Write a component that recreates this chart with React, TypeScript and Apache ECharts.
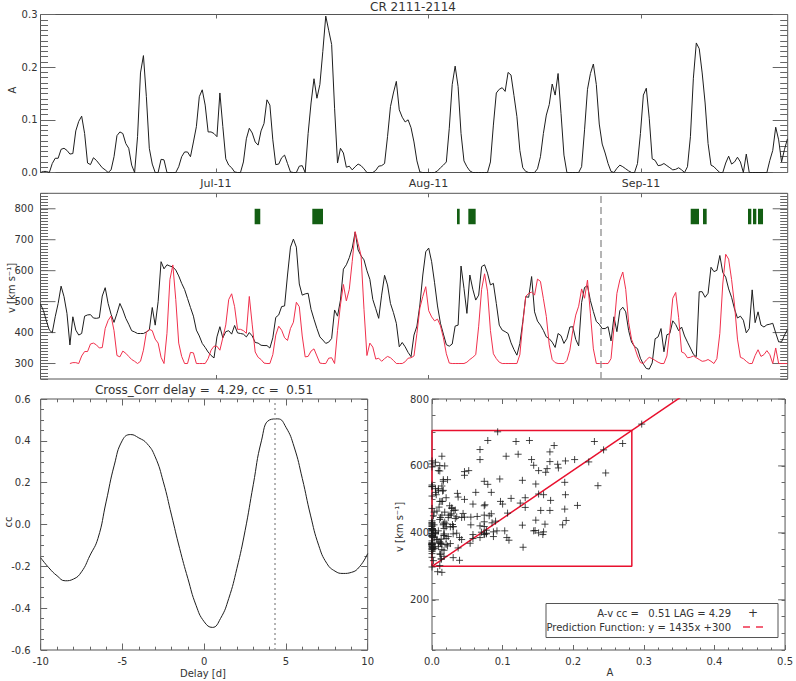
import React, { useEffect, useRef } from 'react';
import * as echarts from 'echarts';

// ---------- data ----------
// time in days relative to 2011-07-01 00:00; samples every DT days from T0
const T0 = -25.6;
const DT = 0.429;
const X_MIN = -25.6;
const X_MAX = 83.4;
const LAG_DAYS = 4.29;
const LAG_SAMPLES = 10; // LAG_DAYS / DT
const CC_PEAK = 0.51;
const SLOPE = 1435;
const INTERCEPT = 300;

const MONTH_TICKS = [0, 31, 62];
const MONTH_LABELS = ['Jul-11', 'Aug-11', 'Sep-11'];

const A_VALUES = [
  0, 0.002, 0.002, 0, 0.017, 0.027, 0.027, 0.044, 0.046, 0.042,
  0.035, 0.036, 0.079, 0.097, 0.107, 0.074, 0.018, 0.015, 0.028, 0.023,
  0.016, 0.009, 0.005, 0, 0.005, 0.03, 0.07, 0.077, 0.074, 0.055,
  0.046, 0.014, 0, 0.068, 0.189, 0.222, 0.144, 0.046, 0.016, 0,
  0, 0.025, 0.024, 0, 0, 0, 0, 0.011, 0.03, 0.039,
  0.039, 0.03, 0.058, 0.087, 0.144, 0.157, 0.128, 0.077, 0.077, 0.074,
  0.068, 0.151, 0.087, 0.026, 0.014, 0.009, 0.001, 0, 0, 0.02,
  0.064, 0.084, 0.075, 0.058, 0.052, 0.079, 0.093, 0.138, 0.128, 0.062,
  0.015, 0.016, 0.028, 0.033, 0.017, 0.001, 0, 0, 0.012, 0.013,
  0, 0.074, 0.132, 0.178, 0.141, 0.167, 0.23, 0.297, 0.27, 0.243,
  0.122, 0.018, 0.046, 0.037, 0.01, 0.012, 0.005, 0.011, 0.016, 0.013,
  0.007, 0, 0, 0, 0.004, 0.012, 0.013, 0.017, 0.068, 0.125,
  0.151, 0.173, 0.119, 0.105, 0.096, 0.1, 0.085, 0.058, 0.022, 0.001,
  0, 0, 0, 0, 0, 0.003, 0.009, 0.014, 0.02, 0.084,
  0.167, 0.202, 0.163, 0.074, 0.022, 0.011, 0.003, 0, 0, 0,
  0, 0, 0, 0.02, 0.09, 0.151, 0.158, 0.161, 0.154, 0.19,
  0.185, 0.146, 0.106, 0.042, 0.009, 0.002, 0, 0, 0, 0.007,
  0.03, 0.074, 0.109, 0.129, 0.168, 0.147, 0.188, 0.112, 0.033, 0,
  0, 0, 0, 0, 0.011, 0.081, 0.158, 0.188, 0.206, 0.167,
  0.092, 0.054, 0.037, 0.017, 0.002, 0, 0.008, 0.014, 0.011, 0.007,
  0.003, 0, 0, 0.017, 0.074, 0.147, 0.16, 0.103, 0.026, 0.023,
  0.013, 0.014, 0.017, 0.013, 0.009, 0.005, 0.006, 0.009, 0.005, 0,
  0.011, 0.068, 0.179, 0.246, 0.235, 0.189, 0.132, 0.055, 0.014, 0.011,
  0.005, 0, 0, 0.018, 0.031, 0.016, 0.02, 0.029, 0.02, 0,
  0.035, 0, 0, 0, 0, 0, 0, 0, 0.023, 0.042,
  0.086, 0.062, 0.02, 0.044, 0.064,
];

const V_VALUES = [
  492, 471, 438, 408, 400, 451, 494, 550, 516, 462,
  360, 451, 408, 392, 397, 453, 457, 458, 447, 446,
  448, 518, 545, 494, 459, 433, 462, 494, 473, 446,
  427, 406, 402, 397, 397, 397, 402, 408, 481, 424,
  500, 629, 606, 619, 615, 612, 602, 583, 559, 539,
  510, 481, 453, 408, 389, 365, 352, 337, 326, 318,
  386, 419, 383, 403, 406, 395, 423, 399, 397, 395,
  386, 400, 389, 368, 366, 359, 358, 358, 350, 383,
  449, 457, 484, 486, 586, 676, 702, 676, 557, 521,
  525, 527, 475, 443, 413, 386, 376, 365, 369, 381,
  473, 453, 505, 605, 619, 642, 673, 725, 667, 648,
  635, 600, 572, 507, 477, 446, 521, 585, 554, 494,
  465, 430, 354, 368, 354, 336, 322, 392, 421, 489,
  586, 661, 673, 629, 561, 486, 430, 395, 361, 356,
  363, 421, 424, 615, 543, 462, 586, 540, 505, 521,
  613, 619, 592, 554, 559, 494, 424, 408, 403, 397,
  367, 345, 327, 365, 435, 516, 514, 581, 467, 437,
  424, 407, 386, 380, 369, 352, 397, 390, 365, 381,
  418, 419, 378, 357, 497, 546, 551, 503, 468, 436,
  427, 413, 413, 419, 373, 451, 403, 471, 482, 467,
  406, 369, 355, 348, 317, 298, 284, 282, 302, 380,
  386, 413, 338, 393, 397, 438, 426, 406, 418, 389,
  369, 350, 330, 322, 532, 532, 514, 527, 611, 597,
  601, 649, 594, 579, 541, 514, 476, 447, 453, 440,
  399, 413, 538, 432, 467, 424, 418, 425, 427, 430,
  399, 370, 370, 392, 410,
];

// green event bars (days since 2011-07-01), drawn between GREEN_V[0] and GREEN_V[1]
const GREEN_START = [5.64, 14.05, 35.16, 36.81, 69.25, 71.04, 77.61, 78.34, 79.07];
const GREEN_END = [6.46, 15.61, 35.55, 37.88, 70.46, 71.58, 78.09, 78.82, 79.8];
const GREEN_V = [750, 800];
const BOUNDARY_DAY = 56.06;

const CC_DELAY = [
  -10, -9.5, -9, -8.5, -8, -7.5, -7, -6.5, -6, -5.5, -5, -4.5, -4, -3.5, -3, -2.5, -2, -1.5, -1, -0.5,
  0, 0.5, 1, 1.5, 2, 2.5, 3, 3.5, 4, 4.5, 5, 5.5, 6, 6.5, 7, 7.5, 8, 8.5, 9, 9.5, 10,
];
const CC_VALUES = [
  -0.159, -0.207, -0.245, -0.269, -0.261, -0.226, -0.15, -0.067, 0.108, 0.284, 0.403, 0.43, 0.414, 0.387, 0.324, 0.204, 0.045, -0.115, -0.258, -0.386,
  -0.465, -0.492, -0.449, -0.354, -0.21, -0.03, 0.19, 0.4, 0.5, 0.505, 0.465, 0.371, 0.22, 0.045, -0.099, -0.186, -0.223, -0.234, -0.229, -0.202, -0.139,
];

const RECT_A_MAX = 0.283;
const RECT_V_MIN = 300;
const RECT_V_MAX = 706;

// ---------- styles / layout ----------
const FONT = 'DejaVu Sans';
const AXIS_COLOR = '#555';
const TICK_COLOR = '#666';
const TEXT_COLOR = '#333';
const LINE_COLOR = '#1e1e1e';
const RED = '#f0304c';
const RED_STRONG = '#e8102e';
const GREEN = '#135e13';

const GRIDS = [
  { left: 40.5, top: 14.5, width: 747.2, height: 158 },
  { left: 40.5, top: 193.3, width: 747.2, height: 185.7 },
  { left: 40.7, top: 399, width: 327, height: 251 },
  { left: 432, top: 399, width: 355.7, height: 251 },
];

function seq(a: number, b: number, step: number): number[] {
  const out: number[] = [];
  const n = Math.round((b - a) / step);
  for (let k = 0; k <= n; k++) out.push(+(a + k * step).toFixed(6));
  return out;
}

type TickCfg = { interval?: number; custom?: number[]; len: number; minor?: number; minorLen?: number };
type LabelCfg = { values: number[]; fmt: (v: number) => string; margin: number; size: number };

function makeAxis(gridIndex: number, position: string, min: number, max: number, t: TickCfg, lab?: LabelCfg) {
  const ax: any = {
    type: 'value',
    gridIndex,
    position,
    min,
    max,
    axisLine: { show: false, onZero: false },
    splitLine: { show: false },
    axisTick: { show: true, inside: true, length: t.len, lineStyle: { color: TICK_COLOR } },
    minorTick: t.minor
      ? { show: true, splitNumber: t.minor, length: t.minorLen, lineStyle: { color: TICK_COLOR } }
      : { show: false },
    minorSplitLine: { show: false },
    axisLabel: lab
      ? {
          show: true,
          customValues: lab.values,
          formatter: lab.fmt,
          margin: lab.margin,
          color: TEXT_COLOR,
          fontSize: lab.size,
          fontFamily: FONT,
        }
      : { show: false },
  };
  if (t.interval !== undefined) ax.interval = t.interval;
  if (t.custom) ax.axisTick.customValues = t.custom;
  return ax;
}

// longer inward major ticks (left & right) drawn as a broken line series in data coordinates
function majorTickSeries(g: number, xr: number[], yMaj: number[], len: number) {
  const perPxX = (xr[1] - xr[0]) / GRIDS[g].width;
  const d = len * perPxX;
  const gap = ['-', '-'];
  const data: any[] = [];
  yMaj.forEach((v) => {
    data.push([xr[0], v], [xr[0] + d, v], gap, [xr[1] - d, v], [xr[1], v], gap);
  });
  return {
    type: 'line',
    xAxisIndex: g,
    yAxisIndex: g,
    data,
    showSymbol: false,
    symbol: 'none',
    silent: true,
    connectNulls: false,
    z: 2,
    lineStyle: { color: TICK_COLOR, width: 1 },
  };
}

const fmt1 = (v: number) => v.toFixed(1);
const fmtInt = (v: number) => String(Math.round(v));
const fmtMonth = (v: number) => {
  const k = MONTH_TICKS.indexOf(Math.round(v));
  return k >= 0 ? MONTH_LABELS[k] : '';
};

function buildOption() {
  const T = A_VALUES.map((_, i) => +(T0 + i * DT).toFixed(4));
  const aData = A_VALUES.map((a, i) => [T[i], a]);
  const vData = V_VALUES.map((v, i) => [T[i], v]);
  const predData = A_VALUES.slice(0, A_VALUES.length - LAG_SAMPLES).map((a, i) => [T[i + LAG_SAMPLES], SLOPE * a + INTERCEPT]);
  const scatterData = A_VALUES.slice(0, A_VALUES.length - LAG_SAMPLES).map((a, i) => [a, V_VALUES[i + LAG_SAMPLES]]);
  const ccData = CC_DELAY.map((d, i) => [d, CC_VALUES[i]]);
  const rectData = [
    [0, RECT_V_MIN],
    [RECT_A_MAX, RECT_V_MIN],
    [RECT_A_MAX, RECT_V_MAX],
    [0, RECT_V_MAX],
    [0, RECT_V_MIN],
  ];
  const fitData = [
    [0, INTERCEPT],
    [0.5, SLOPE * 0.5 + INTERCEPT],
  ];

  const gridBase = { show: true, borderColor: AXIS_COLOR, borderWidth: 1 };
  const line = (xi: number, yi: number, data: number[][], color: string, width: number, extra: any = {}) => ({
    type: 'line',
    xAxisIndex: xi,
    yAxisIndex: yi,
    data,
    showSymbol: false,
    symbol: 'none',
    silent: true,
    z: 3,
    lineStyle: { color, width },
    ...extra,
  });

  const rot = Math.PI / 2;
  const txt = (x: number, y: number, text: string, size: number, rotation = 0, align = 'center') => ({
    type: 'text',
    x,
    y,
    rotation,
    silent: true,
    z: 50,
    style: { text, textAlign: align, textVerticalAlign: 'middle', fontSize: size, fontFamily: FONT, fill: TEXT_COLOR },
  });

  // tick configurations
  const tMonth: TickCfg = { custom: MONTH_TICKS, len: 4 };
  const tCcX: TickCfg = { interval: 5, len: 6.5, minor: 5, minorLen: 3.3 };
  const tScX: TickCfg = { interval: 0.1, len: 5, minor: 5, minorLen: 2.5 };
  const tAY: TickCfg = { interval: 0.1, len: 15, minor: 10, minorLen: 7.5 };
  const tVY: TickCfg = { interval: 50, len: 7.5, minor: 5, minorLen: 7.5 };
  const tCcY: TickCfg = { interval: 0.2, len: 6.5, minor: 4, minorLen: 3.3 };
  const tScY: TickCfg = { interval: 50, len: 3.5 };

  return {
    animation: false,
    grid: GRIDS.map((g) => ({ ...gridBase, ...g })),
    xAxis: [
      makeAxis(0, 'bottom', X_MIN, X_MAX, tMonth, { values: MONTH_TICKS, fmt: fmtMonth, margin: 5, size: 11 }),
      makeAxis(1, 'bottom', X_MIN, X_MAX, tMonth),
      makeAxis(2, 'bottom', -10, 10, tCcX, { values: seq(-10, 10, 5), fmt: fmtInt, margin: 6, size: 10 }),
      makeAxis(3, 'bottom', 0, 0.5, tScX, { values: seq(0, 0.5, 0.1), fmt: fmt1, margin: 6, size: 10 }),
      makeAxis(0, 'top', X_MIN, X_MAX, tMonth),
      makeAxis(1, 'top', X_MIN, X_MAX, tMonth),
      makeAxis(2, 'top', -10, 10, tCcX),
      makeAxis(3, 'top', 0, 0.5, tScX),
    ],
    yAxis: [
      makeAxis(0, 'left', 0, 0.3, tAY, { values: seq(0, 0.3, 0.1), fmt: fmt1, margin: 3, size: 10 }),
      makeAxis(1, 'left', 250, 850, tVY, { values: seq(300, 800, 100), fmt: fmtInt, margin: 7, size: 10 }),
      makeAxis(2, 'left', -0.6, 0.6, tCcY, { values: seq(-0.6, 0.6, 0.2), fmt: fmt1, margin: 10, size: 10 }),
      makeAxis(3, 'left', 50, 800, tScY, { values: seq(200, 800, 200), fmt: fmtInt, margin: 3, size: 10 }),
      makeAxis(0, 'right', 0, 0.3, tAY),
      makeAxis(1, 'right', 250, 850, tVY),
      makeAxis(2, 'right', -0.6, 0.6, tCcY),
      makeAxis(3, 'right', 50, 800, tScY),
    ],
    series: [
      majorTickSeries(1, [X_MIN, X_MAX], seq(300, 800, 100), 15),
      majorTickSeries(3, [0, 0.5], seq(200, 800, 200), 7),
      line(0, 0, aData, LINE_COLOR, 1),
      line(1, 1, vData, LINE_COLOR, 1, {
        markArea: {
          silent: true,
          label: { show: false },
          itemStyle: { color: GREEN, opacity: 1 },
          data: GREEN_START.map((s, k) => [
            { xAxis: s, yAxis: GREEN_V[0] },
            { xAxis: GREEN_END[k], yAxis: GREEN_V[1] },
          ]),
        },
        markLine: {
          silent: true,
          symbol: ['none', 'none'],
          label: { show: false },
          lineStyle: { color: '#9c9c9c', width: 1.5, type: [7, 4] },
          data: [{ xAxis: BOUNDARY_DAY }],
        },
      }),
      line(1, 1, predData, RED, 1),
      line(2, 2, ccData, LINE_COLOR, 1, {
        smooth: true,
        markLine: {
          silent: true,
          symbol: ['none', 'none'],
          label: { show: false },
          lineStyle: { color: '#9c9c9c', width: 1.5, type: [2, 3] },
          data: [{ xAxis: LAG_DAYS }],
        },
      }),
      {
        type: 'scatter',
        xAxisIndex: 3,
        yAxisIndex: 3,
        data: scatterData,
        symbol: 'path://M0,5L10,5M5,0L5,10',
        symbolSize: 7,
        silent: true,
        z: 3,
        itemStyle: { color: 'rgba(0,0,0,0)', borderColor: '#1a1a1a', borderWidth: 1 },
      },
      line(3, 3, rectData, RED_STRONG, 1.5),
      line(3, 3, fitData, RED_STRONG, 1.5, { clip: true }),
    ],
    graphic: [
      txt(413, 7, 'CR 2111-2114', 12),
      txt(204, 389.5, `Cross_Corr delay =  ${LAG_DAYS.toFixed(2)}, cc =  ${CC_PEAK.toFixed(2)}`, 12),
      txt(12, 90, 'A', 10, rot),
      txt(11, 288, 'v [km s\u207B\u00B9]', 10, rot),
      txt(8, 522, 'cc', 10, rot),
      txt(399, 527, 'v [km s\u207B\u00B9]', 10, rot),
      txt(203, 673, 'Delay [d]', 10),
      txt(610, 672, 'A', 10),
      {
        type: 'rect',
        silent: true,
        z: 40,
        shape: { x: 546, y: 603.5, width: 232, height: 34 },
        style: { fill: '#ffffff', stroke: AXIS_COLOR, lineWidth: 1 },
      },
      txt(731, 613.5, `A-v cc =   ${CC_PEAK.toFixed(2)} LAG = ${LAG_DAYS.toFixed(2)}`, 10, 0, 'right'),
      txt(753, 613, '+', 12),
      txt(731, 627, `Prediction Function: y = ${SLOPE}x +${INTERCEPT}`, 10, 0, 'right'),
      {
        type: 'line',
        silent: true,
        z: 50,
        shape: { x1: 743, y1: 627, x2: 764, y2: 627 },
        style: { stroke: RED, lineWidth: 1.5, lineDash: [7, 6] },
      },
    ],
  };
}

export default function App() {
  const ref = useRef<HTMLDivElement>(null);
  useEffect(() => {
    if (!ref.current) return;
    const chart = echarts.init(ref.current, null, { renderer: 'svg' });
    chart.setOption(buildOption() as any);
    return () => chart.dispose();
  }, []);
  return <div ref={ref} style={{ position: 'absolute', left: 0, top: 0, width: 796, height: 681, background: '#fff' }} />;
}
